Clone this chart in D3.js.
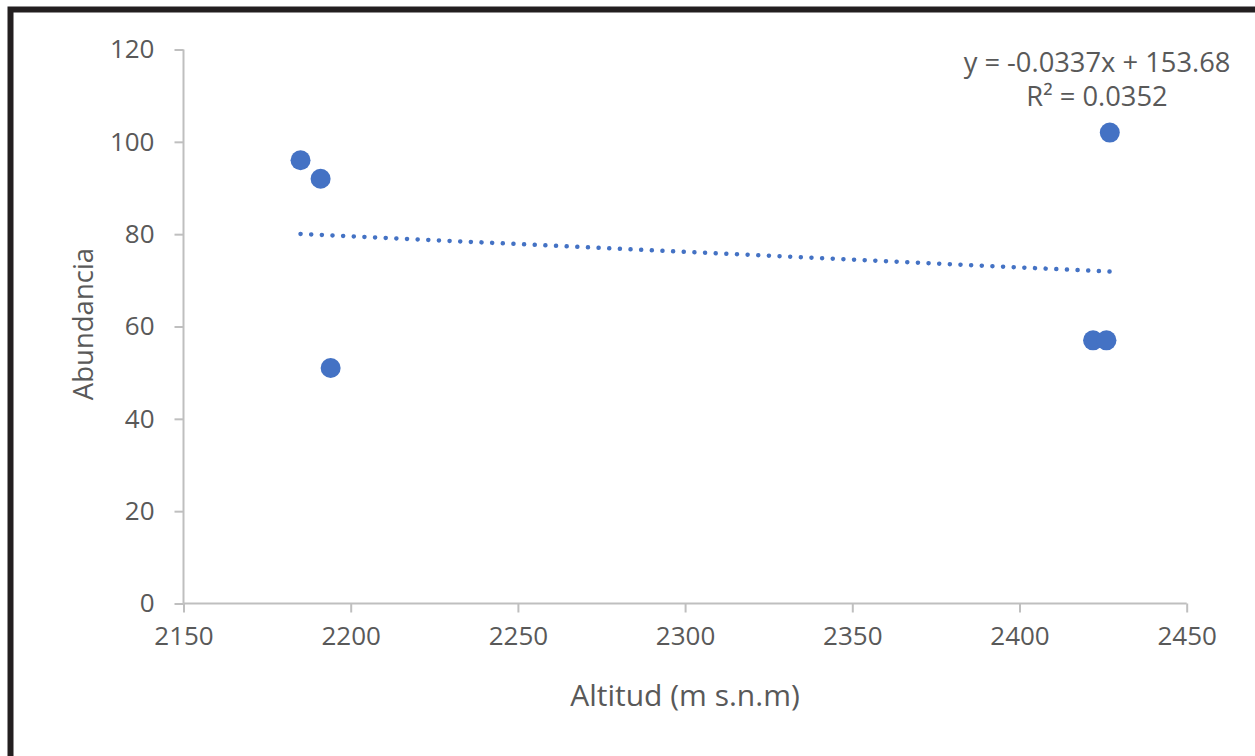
<!DOCTYPE html>
<html>
<head>
<meta charset="utf-8">
<script src="https://cdn.jsdelivr.net/npm/d3@7"></script>
<style>
  html, body { margin: 0; padding: 0; background: #fff; }
  svg { display: block; }
  text { font-family: "Open Sans", "Liberation Sans", sans-serif; fill: #595959; }
</style>
</head>
<body>
<svg id="chart" width="1255" height="756"></svg>
<script>
// Data
const altitud = [2185, 2191, 2194, 2422, 2426, 2427];
const abundancia = [96, 92, 51, 57, 57, 102];
const xTicks = [2150, 2200, 2250, 2300, 2350, 2400, 2450];
const yTicks = [0, 20, 40, 60, 80, 100, 120];
const trendSlope = -0.0337;
const trendIntercept = 153.68;
const equationLines = ["y = -0.0337x + 153.68", "R² = 0.0352"];
const xTitle = "Altitud (m s.n.m)";
const yTitle = "Abundancia";

const svg = d3.select("#chart");
const W = 1255, H = 756;

svg.append("rect").attr("width", W).attr("height", H).attr("fill", "#fff");
// outer frame (thick dark border, left & top visible, extends off-canvas)
svg.append("rect")
  .attr("x", 10.5).attr("y", 9.5)
  .attr("width", W + 20).attr("height", H + 20)
  .attr("fill", "none").attr("stroke", "#231f20").attr("stroke-width", 6);

const x = d3.scaleLinear().domain([2150, 2450]).range([183.5, 1186.7]);
const y = d3.scaleLinear().domain([0, 120]).range([603.5, 49.5]);

const fs = 26;

// Y axis
const yAxis = svg.append("g").attr("transform", `translate(${x(2150)},0)`)
  .call(d3.axisLeft(y).tickValues(yTicks).tickSize(9).tickPadding(20).tickFormat(d3.format("d")));
yAxis.select(".domain").remove();
yAxis.append("line").attr("x1", 0).attr("x2", 0).attr("y1", y(0)).attr("y2", y(120))
  .attr("stroke", "#bfbfbf").attr("stroke-width", 2);
yAxis.selectAll(".tick line").attr("stroke", "#bfbfbf").attr("stroke-width", 2);
yAxis.selectAll(".tick text").attr("font-size", fs).attr("fill", "#595959")
  .attr("font-family", "'Open Sans', 'Liberation Sans', sans-serif");

// X axis
const xAxis = svg.append("g").attr("transform", `translate(0,${y(0)})`)
  .call(d3.axisBottom(x).tickValues(xTicks).tickSize(9).tickPadding(14).tickFormat(d3.format("d")));
xAxis.select(".domain").remove();
xAxis.append("line").attr("x1", x(2150)).attr("x2", x(2450)).attr("y1", 0).attr("y2", 0)
  .attr("stroke", "#bfbfbf").attr("stroke-width", 2);
xAxis.selectAll(".tick line").attr("stroke", "#bfbfbf").attr("stroke-width", 2);
xAxis.selectAll(".tick text").attr("font-size", fs).attr("fill", "#595959")
  .attr("font-family", "'Open Sans', 'Liberation Sans', sans-serif");

// Trendline (dotted), dot spacing fitted so a dot lands on both ends
const x0 = d3.min(altitud), x1 = d3.max(altitud);
const tx0 = x(x0), ty0 = y(trendSlope * x0 + trendIntercept);
const tx1 = x(x1), ty1 = y(trendSlope * x1 + trendIntercept);
const len = Math.hypot(tx1 - tx0, ty1 - ty0);
const nGaps = Math.round(len / 10.7);
const period = (len - 0.3) / nGaps;
svg.append("line")
  .attr("x1", tx0).attr("y1", ty0).attr("x2", tx1).attr("y2", ty1)
  .attr("stroke", "#4472c4").attr("stroke-width", 4.5)
  .attr("stroke-linecap", "round")
  .attr("stroke-dasharray", `0.05 ${period - 0.05}`);

// Points
svg.append("g").selectAll("circle")
  .data(altitud.map((d, i) => [d, abundancia[i]]))
  .join("circle")
  .attr("cx", d => x(d[0])).attr("cy", d => y(d[1]))
  .attr("r", 10).attr("fill", "#4472c4");

// Equation label (one text, two lines)
const eq = svg.append("text")
  .attr("x", 1097).attr("y", 72)
  .attr("text-anchor", "middle").attr("font-size", 27.3);
eq.selectAll("tspan").data(equationLines).join("tspan")
  .attr("x", 1097).attr("dy", (d, i) => i === 0 ? 0 : 34)
  .text(d => d);

// Axis titles
svg.append("text").attr("x", 685).attr("y", 706)
  .attr("text-anchor", "middle").attr("font-size", 30).text(xTitle);
svg.append("text")
  .attr("transform", `translate(93,324) rotate(-90)`)
  .attr("text-anchor", "middle").attr("font-size", 27.5).text(yTitle);
</script>
</body>
</html>
